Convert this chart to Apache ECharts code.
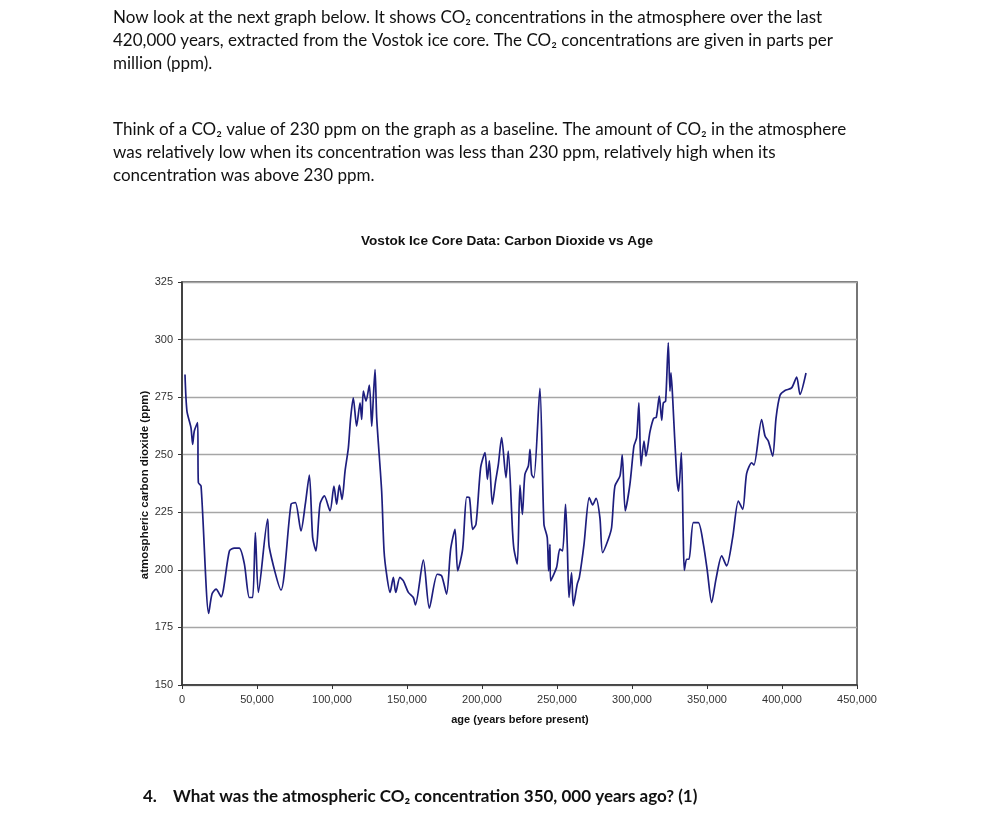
<!DOCTYPE html>
<html>
<head>
<meta charset="utf-8">
<script src="https://cdn.jsdelivr.net/npm/echarts@6/dist/echarts.min.js"></script>
<style>
html,body{margin:0;padding:0;background:#fff;}
#chart{width:989px;height:822px;}
</style>
</head>
<body>
<div id="chart"></div>
<script>
// age (years before present)
const ages = [2000,3300,6000,7100,8200,10400,10900,12700,17800,20000,22700,26000,31600,34900,38200,41600,44900,47100,48900,50900,57100,58200,66000,72700,75600,79300,82200,84900,87100,89300,92000,94900,98700,101300,103100,104900,106700,108700,110900,112400,114200,116400,118700,119800,120900,122700,124900,126500,127600,128700,129800,133100,134700,136400,138700,140900,142500,145300,147600,150900,154200,155600,160900,164900,170200,173100,176400,179100,182000,183800,187100,189800,191600,193800,196000,199100,202000,203600,204900,206900,209100,210900,213100,216000,217500,220400,221300,223500,225300,226900,228600,230900,232000,233100,234600,238600,241300,243500,244400,245300,245700,249700,251900,253700,255700,256900,258000,259700,260900,263500,264900,268000,271500,273800,276000,278600,280400,284200,286400,288600,292000,293500,295500,298600,301300,303100,304600,306000,308000,309300,312000,314400,316200,318200,319800,320900,322400,324200,325300,326000,327100,329800,331100,332900,334200,334900,336400,338000,340900,344200,347600,350200,353100,356000,359800,363100,367100,370900,373800,376400,379800,381300,386400,388700,390900,393800,396000,398700,402000,406400,409800,412000,416000];
// atmospheric CO2 (ppm)
const co2 = [284.8,268.9,261.7,254.5,260.3,263.9,237.9,236.4,181.1,189.5,191.6,188.3,208.2,209.4,209.4,202.5,188,188,216.2,190.2,222,209.7,191.2,228.5,229.2,216.9,228.5,241.2,214.1,208.2,228.5,232.1,225.6,236.4,228.5,236.8,230.6,242.9,253,265.8,274.7,262.4,272.5,265.3,277.6,273.3,280.2,262.4,275.4,287,266,234.2,208.2,198.1,190.2,196.7,190.2,196.7,195.2,190.2,188,184.8,204.2,183.4,198.1,197.4,189.5,209,217.6,199.6,209,231.6,231.4,217.6,219.8,244.4,250.9,239.3,247.3,228.5,238.6,245.8,257.4,240,251.6,216.2,209,202.5,236.8,224.1,241.5,245.1,252.3,241.5,240,278.8,219.8,214,199.6,211.1,195.2,201,209,208.2,228.5,209.7,188,198.8,184.4,193.8,196.7,211.1,231.4,228.2,231.1,222.7,207.5,213.3,218.4,236.4,240.8,249.9,225.6,237.1,253.8,257.4,272.5,245.1,255.9,249.4,260,265.8,266.3,275.4,264.9,272.5,273.3,298.6,277.6,285.5,274.7,240.8,234.2,250.9,214,199.8,204.6,204.6,220.5,220.5,211.1,199.6,185.8,196,206.1,201.7,214,229.9,226.3,241.8,246.5,245.5,265.3,258.1,255.9,249.4,265.8,275.8,277.9,279,283.7,276.2,285.5];

const chartTitle = 'Vostok Ice Core Data: Carbon Dioxide vs Age';
const xName = 'age (years before present)';
const yName = 'atmospheric carbon dioxide (ppm)';
const para1 = ['Now look at the next graph below. It shows CO₂ concentrations in the atmosphere over the last',
  '420,000 years, extracted from the Vostok ice core. The CO₂ concentrations are given in parts per',
  'million (ppm).'];
const para2 = ['Think of a CO₂ value of 230 ppm on the graph as a baseline. The amount of CO₂ in the atmosphere',
  'was relatively low when its concentration was less than 230 ppm, relatively high when its',
  'concentration was above 230 ppm.'];
const qNum = '4.';
const question = 'What was the atmospheric CO₂ concentration 350, 000 years ago? (1)';

const chart = echarts.init(document.getElementById('chart'), null, {renderer: 'canvas'});
const data = ages.map((a, i) => [a, co2[i]]);
const bodyFont = 'Lato, "Open Sans", sans-serif';
const chartFont = '"Liberation Sans", Arial, sans-serif';

chart.setOption({
  backgroundColor: '#ffffff',
  animation: false,
  grid: {left: 182, top: 282, right: 132, bottom: 137, show: true, borderColor: '#4a4a4a', borderWidth: 1.5, backgroundColor: 'transparent'},
  xAxis: {
    type: 'value', min: 0, max: 450000, interval: 50000,
    axisLine: {show: true, lineStyle: {color: '#333', width: 1.5}},
    axisTick: {show: true, length: 4, lineStyle: {color: '#333'}},
    splitLine: {show: false},
    axisLabel: {color: '#333', fontFamily: chartFont, fontSize: 11, margin: 9,
      formatter: v => v.toLocaleString('en-US')}
  },
  yAxis: {
    type: 'value', min: 150, max: 325, interval: 25,
    axisLine: {show: true, lineStyle: {color: '#333', width: 1.5}},
    axisTick: {show: true, length: 4, lineStyle: {color: '#333'}},
    splitLine: {show: true, lineStyle: {color: '#a6a6a6', width: 1.3}},
    axisLabel: {color: '#333', fontFamily: chartFont, fontSize: 11, margin: 9}
  },
  series: [{
    type: 'line', data: data, showSymbol: false, smooth: 0.25,
    lineStyle: {color: '#1e1e7e', width: 1.7}
  }],
  graphic: [
    {type: 'text', left: 113, top: 6, style: {text: para1.join('\n'), font: '17px ' + bodyFont, lineHeight: 23, fill: '#111'}},
    {type: 'text', left: 113, top: 118, style: {text: para2.join('\n'), font: '17px ' + bodyFont, lineHeight: 23, fill: '#111'}},
    {type: 'text', x: 507, y: 241, style: {text: chartTitle, font: 'bold 13.6px ' + chartFont, fill: '#111', align: 'center', verticalAlign: 'middle'}},
    {type: 'text', x: 520, y: 720, style: {text: xName, font: 'bold 11px ' + chartFont, fill: '#111', align: 'center', verticalAlign: 'middle'}},
    {type: 'text', x: 145, y: 485, rotation: Math.PI / 2, style: {text: yName, font: 'bold 11.5px ' + chartFont, fill: '#111', align: 'center', verticalAlign: 'middle'}},
    {type: 'text', x: 143, y: 797, style: {text: qNum, font: 'bold 17px ' + bodyFont, fill: '#111', verticalAlign: 'middle'}},
    {type: 'text', x: 173, y: 797, style: {text: question, font: 'bold 17px ' + bodyFont, fill: '#111', verticalAlign: 'middle'}}
  ]
});
</script>
</body>
</html>
